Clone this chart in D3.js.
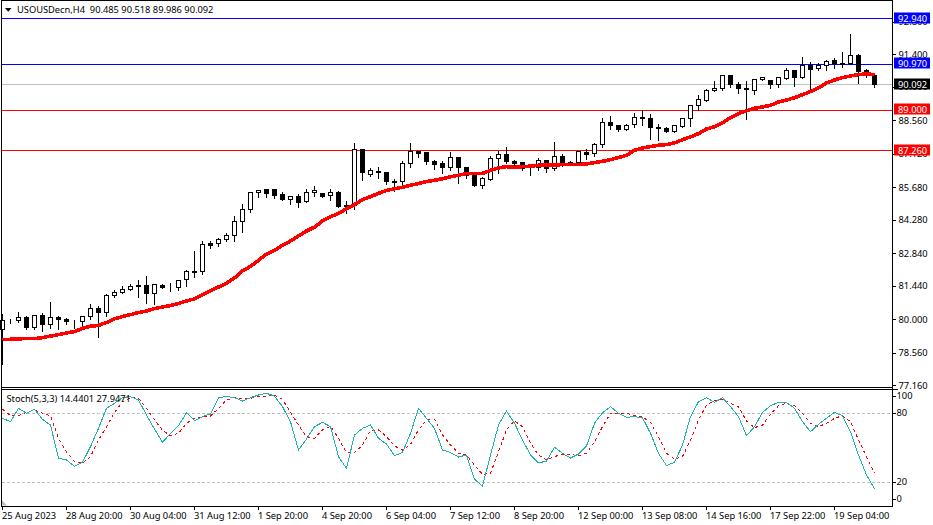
<!DOCTYPE html>
<html>
<head>
<meta charset="utf-8">
<script src="https://cdn.jsdelivr.net/npm/d3@7"></script>
<style>
  html, body { margin: 0; padding: 0; background: #fff; }
  svg { display: block; }
  text { font-family: "Noto Sans", sans-serif; font-size: 9.3px; fill: #000; }
</style>
</head>
<body>
<div id="chart"></div>
<script>
const opens = [79.53,79.93,79.93,80.07,79.64,80.16,79.76,80.07,79.99,79.92,79.89,80.10,80.46,80.27,81.01,81.15,81.28,81.45,81.45,81.11,81.46,81.38,81.41,81.67,82.05,82.05,83.27,83.26,83.42,83.60,84.20,84.72,85.42,85.59,85.59,85.38,85.19,85.29,85.06,
  85.42,85.42,85.35,85.45,84.89,84.89,87.30,86.26,86.36,86.31,85.93,85.91,86.70,87.22,87.17,86.80,86.70,86.51,86.96,86.53,86.18,85.74,86.04,86.90,87.09,86.79,86.74,86.51,86.51,86.83,86.47,87.00,86.74,86.74,87.17,87.12,87.52,88.46,88.34,
  88.18,88.36,88.68,88.64,88.25,88.20,88.06,88.32,88.64,89.18,89.42,89.83,89.91,90.49,90.10,89.93,89.83,90.31,90.27,90.08,90.36,90.70,90.39,90.93,90.77,90.92,91.13,90.99,90.99,91.36,90.69,90.485];
const highs = [80.22,80.03,80.30,80.13,80.16,80.25,80.73,80.16,80.04,79.99,80.16,80.68,80.59,81.11,81.28,81.42,81.54,81.68,81.85,81.49,81.54,81.58,81.67,82.14,82.93,83.39,83.36,83.49,83.73,84.43,84.95,85.47,85.55,85.59,85.60,85.47,85.32,85.38,85.61,
  85.72,85.42,85.60,85.50,85.08,87.59,87.35,86.51,86.56,86.36,86.05,86.80,87.59,87.23,87.22,86.87,86.80,87.19,86.97,86.54,86.27,86.13,87.02,87.26,87.40,86.84,86.74,86.60,86.92,86.83,87.62,87.13,86.83,87.23,87.32,87.60,88.68,88.74,88.34,
  88.42,88.89,88.99,88.85,88.39,88.28,88.35,88.68,89.20,89.67,89.90,90.24,90.50,90.53,90.23,90.27,90.36,90.40,90.29,90.43,90.83,90.72,91.28,91.06,91.05,91.15,91.23,91.52,92.26,91.40,90.77,90.518];
const lows = [78.09,79.84,79.87,79.59,79.60,79.50,79.61,79.59,79.79,79.61,79.64,80.02,79.24,80.16,80.96,81.13,81.25,80.96,80.70,80.68,81.34,81.22,81.25,81.42,81.82,81.97,83.06,83.16,83.37,83.37,83.76,84.63,85.27,85.27,85.24,85.12,84.95,84.83,85.04,
  85.29,85.27,85.12,84.84,84.58,84.74,85.98,86.16,86.07,85.84,85.50,85.72,86.56,86.97,86.70,86.46,86.30,86.44,85.87,86.07,85.72,85.67,85.98,86.30,86.73,86.64,86.44,86.21,86.43,86.34,86.43,86.60,86.63,86.64,86.89,87.02,87.42,88.19,88.09,
  88.16,88.28,88.35,87.75,87.70,88.05,88.05,88.28,88.32,88.99,89.40,89.83,89.88,89.98,89.75,88.62,89.70,90.31,89.96,90.00,90.36,90.04,90.39,89.86,90.74,90.72,90.83,90.86,90.99,90.17,90.43,89.986];
const closes = [79.93,79.94,80.07,79.63,80.16,79.76,80.07,79.99,79.89,79.93,80.10,80.46,80.27,81.02,81.15,81.28,81.41,81.39,81.09,81.49,81.39,81.39,81.67,82.05,82.07,83.21,83.21,83.43,83.60,84.20,84.72,85.45,85.54,85.42,85.37,85.16,85.29,85.04,85.45,
  85.54,85.29,85.47,84.84,84.84,87.30,86.30,86.41,86.31,85.91,85.94,86.70,87.22,87.12,86.76,86.69,86.51,86.96,86.51,86.18,85.74,86.05,86.92,87.09,86.76,86.69,86.47,86.49,86.83,86.47,87.00,86.69,86.69,87.22,87.09,87.52,88.46,88.32,88.18,
  88.36,88.68,88.64,88.23,88.20,88.06,88.33,88.65,89.20,89.45,89.86,89.93,90.49,90.08,89.91,89.88,90.31,90.39,90.08,90.40,90.70,90.39,90.92,90.77,90.92,91.09,90.99,91.02,91.35,90.69,90.47,90.092];
const maValues = [79.13,79.14,79.16,79.17,79.17,79.21,79.28,79.34,79.41,79.47,79.61,79.70,79.74,79.86,80.02,80.12,80.20,80.29,80.36,80.46,80.53,80.59,80.68,80.79,80.88,81.06,81.22,81.39,81.55,81.78,82.08,82.28,82.54,82.80,82.96,83.19,83.37,83.59,83.80,
  83.97,84.23,84.42,84.55,84.76,84.94,85.15,85.28,85.42,85.54,85.62,85.68,85.77,85.84,85.93,85.98,86.05,86.13,86.20,86.27,86.27,86.28,86.41,86.51,86.57,86.54,86.57,86.59,86.63,86.64,86.64,86.66,86.66,86.66,86.69,86.74,86.80,86.87,86.96,
  87.06,87.27,87.37,87.43,87.49,87.52,87.59,87.73,87.85,87.99,88.19,88.29,88.46,88.68,88.85,88.97,89.08,89.14,89.21,89.35,89.44,89.53,89.67,89.80,89.96,90.17,90.30,90.40,90.47,90.53,90.56,90.53];
const stochMain = [75.6,72.7,84.3,80,83.4,74.7,69.8,40.8,39.4,33.9,37.4,51,66.9,84.3,88.7,93.6,94.5,91.6,78.5,66.3,54.7,62.6,69.2,80.5,73.6,77.1,79.4,93.6,94.7,93.6,90.7,93.6,95.9,97.4,95,85.8,72.7,48.1,57.6,
  68.4,72.1,68.4,42.3,32.1,61.1,66.9,69.8,58.2,53.3,43.1,46,62.6,84.3,75.6,66.9,48.1,45.8,42,43.7,22.6,16.8,43.7,69.8,82,71.3,56.8,43.7,36.8,38.5,50.4,45.2,41.1,44.6,51.6,71.3,80.5,85.8,80,
  76.5,77.1,76.2,62.6,45.2,34.5,37.4,52.4,77.1,90.1,93.6,89.5,93.6,85.8,77.1,60.5,68.4,80.8,86.6,89.5,89.5,84.3,72.7,64,70.4,75.6,80.8,77.9,64,43.7,26.3,14.44];
const stochSignal = [83.7,77.9,77.9,80.8,82.9,80,77.9,58.2,46.6,37.9,36.8,42.3,56.8,68.4,80.8,90.1,93.6,93,84.3,74.2,65.5,60.3,62.6,71.3,75.6,77.1,77.6,84.3,91.6,93.6,92.4,93,94.5,95,95.9,92.1,80.8,69.8,59.7,
  58.2,65.5,68.7,58.2,45.8,45.8,52.4,64.9,65.5,59.7,51.6,48.1,53,65.5,74.2,74.7,61.1,52.4,45.2,43.7,35,26.9,27.8,46.6,65.5,73.6,68.4,53.9,43.7,39.4,42.3,44.6,44.3,43.1,45.2,55.3,68.4,80,80,
  80,77.9,76.8,72.1,59.7,45.2,40.3,42.3,56.8,74.2,87.2,91,92.4,88.7,85.8,73.3,67.5,69.8,79.1,86.6,88.7,86.6,80,71.3,68.4,71.3,75.6,77.9,72.7,56.8,42.3,27.9471];

const priceTicks = [92.8, 91.4, 90.0, 88.56, 87.12, 85.68, 84.28, 82.84, 81.44, 80.0, 78.56, 77.16];
const stochTicks = [100, 80, 20, 0];
const stochLevels = [80, 20];
const timeLabels = ['25 Aug 2023','28 Aug 20:00','30 Aug 04:00','31 Aug 12:00','1 Sep 20:00','4 Sep 20:00','6 Sep 04:00','7 Sep 12:00','8 Sep 20:00','12 Sep 00:00','13 Sep 08:00','14 Sep 16:00','17 Sep 22:00','19 Sep 04:00'];
const timeEvery = 8;

const blueLevels = [92.94, 90.97];
const redLevels = [89.0, 87.26];
const lastPrice = 90.092;

const titleText = 'USOUSDecn,H4  90.485 90.518 89.986 90.092';
const stochText = 'Stoch(5,3,3) 14.4401 27.9471';

const width = 933, height = 525;
const plotLeft = 1.5, plotRight = 892.5;
const fontSize = '9.3px';

const svg = d3.select('#chart').append('svg')
  .attr('width', width).attr('height', height)
  .attr('viewBox', `0 0 ${width} ${height}`);

const x = d3.scaleLinear().domain([0, opens.length - 1]).range([2.5, 874.5]);
const y = d3.scaleLinear().domain([92.94, 77.16]).range([18.6, 385.3]);
const yStoch = d3.scaleLinear().domain([100, 0]).range([390.3, 505.3]);

const snap = v => Math.round(v - 0.5) + 0.5;
const px = d => snap(x(d));

// Price panel levels sit behind the candles
const hLine = (g, v, scale, color) => g.append('line')
  .attr('x1', plotLeft).attr('x2', plotRight)
  .attr('y1', snap(scale(v))).attr('y2', snap(scale(v)))
  .attr('stroke', color).attr('shape-rendering', 'crispEdges');

const levels = svg.append('g');
hLine(levels, lastPrice, y, '#c0c0c0');
blueLevels.forEach(v => hLine(levels, v, y, '#0000ff'));
redLevels.forEach(v => hLine(levels, v, y, '#ff0000'));

// Candles
const candleLayer = svg.append('g').attr('shape-rendering', 'crispEdges');
const idx = d3.range(opens.length);

candleLayer.selectAll('line.wick').data(idx).join('line')
  .attr('class', 'wick')
  .attr('x1', px).attr('x2', px)
  .attr('y1', i => Math.round(y(highs[i])))
  .attr('y2', i => Math.round(y(lows[i])) + 1)
  .attr('stroke', '#000');

candleLayer.selectAll('rect').data(idx).join('rect')
  .attr('x', i => px(i) - 2)
  .attr('width', 4)
  .attr('y', i => snap(y(Math.max(opens[i], closes[i]))))
  .attr('height', i => Math.max(Math.round(y(Math.min(opens[i], closes[i]))) - Math.round(y(Math.max(opens[i], closes[i]))), 0))
  .attr('fill', i => closes[i] >= opens[i] ? '#fff' : '#000')
  .attr('stroke', '#000');

// Moving average
const maLine = d3.line().x((d, i) => x(i)).y(d => y(d));
svg.append('path').datum(maValues)
  .attr('d', maLine)
  .attr('fill', 'none').attr('stroke', '#ff0000').attr('stroke-width', 3.6)
  .attr('shape-rendering', 'crispEdges');

// Stochastic panel
const stochLayer = svg.append('g');
stochLevels.forEach(v => hLine(stochLayer, v, yStoch, '#c0c0c0').attr('stroke-dasharray', '3,2'));

const stochLine = d3.line().x((d, i) => x(i)).y(d => yStoch(d));
stochLayer.append('path').datum(stochSignal)
  .attr('d', stochLine)
  .attr('fill', 'none').attr('stroke', '#ff0000').attr('stroke-dasharray', '3,3')
  .attr('shape-rendering', 'crispEdges');
stochLayer.append('path').datum(stochMain)
  .attr('d', stochLine)
  .attr('fill', 'none').attr('stroke', '#20b2aa')
  .attr('shape-rendering', 'crispEdges');

// Frame
const frame = svg.append('g').attr('stroke', '#000').attr('shape-rendering', 'crispEdges');
frame.append('line').attr('x1', 1.5).attr('x2', 1.5).attr('y1', 0).attr('y2', 506);
frame.append('line').attr('x1', plotRight).attr('x2', plotRight).attr('y1', 0).attr('y2', 506);
frame.append('line').attr('x1', 1).attr('x2', plotRight).attr('y1', 0.5).attr('y2', 0.5);
frame.append('line').attr('x1', 1).attr('x2', plotRight).attr('y1', 387.5).attr('y2', 387.5);
frame.append('line').attr('x1', 1).attr('x2', 898).attr('y1', 389.5).attr('y2', 389.5);
frame.append('line').attr('x1', 1).attr('x2', plotRight).attr('y1', 506.5).attr('y2', 506.5);

// Axes
const styleAxis = g => {
  g.select('.domain').remove();
  g.selectAll('.tick line').attr('stroke', '#000').attr('shape-rendering', 'crispEdges');
  g.selectAll('.tick text').attr('fill', '#000').style('font-family', '"Noto Sans", sans-serif').style('font-size', fontSize);
};

svg.append('g')
  .attr('transform', `translate(${plotRight},0)`)
  .call(d3.axisRight(y).tickValues(priceTicks).tickSize(3).tickPadding(3).tickFormat(d3.format('.3f')))
  .call(styleAxis);

svg.append('g')
  .attr('transform', `translate(${plotRight},0)`)
  .call(d3.axisRight(yStoch).tickValues(stochTicks).tickSize(3).tickPadding(1))
  .call(styleAxis)
  .call(g => g.selectAll('.tick').attr('transform', d => `translate(0,${snap(Math.min(Math.max(yStoch(d), 396), 499))})`));

const timeTicks = timeLabels.map((_, i) => i * timeEvery);
svg.append('g')
  .attr('transform', 'translate(0,506.5)')
  .call(d3.axisBottom(x).tickValues(timeTicks).tickSize(3).tickFormat((d, i) => timeLabels[i]))
  .call(styleAxis)
  .call(g => g.selectAll('.tick').attr('transform', d => `translate(${px(d)},0)`))
  .call(g => g.selectAll('.tick text').attr('text-anchor', 'start').attr('x', -0.5).attr('y', 5.5));

// Price tags on the right axis
const tags = [
  ...blueLevels.map(v => ({ v, color: '#0000ff' })),
  ...redLevels.map(v => ({ v, color: '#ff0000' })),
  { v: lastPrice, color: '#000' }
];
const tag = svg.selectAll('g.tag').data(tags).join('g')
  .attr('class', 'tag')
  .attr('transform', d => `translate(894,${Math.round(y(d.v))})`);
tag.append('rect')
  .attr('x', 0).attr('y', -6.5).attr('width', 36).attr('height', 11)
  .attr('fill', d => d.color);
tag.append('text')
  .attr('x', 4).attr('y', 2.5)
  .style('fill', '#fff')
  .text(d => d3.format('.3f')(d.v));

// Titles
svg.append('path')
  .attr('d', d3.line()([[5, 8], [11.5, 8], [8.2, 11.7]]) + 'Z')
  .attr('fill', '#000');
svg.append('text').attr('x', 17).attr('y', 13).attr('xml:space', 'preserve').text(titleText);
svg.append('text').attr('x', 6.5).attr('y', 402).text(stochText);

// Grey marker in the corner of the lower panel
svg.append('path')
  .attr('d', d3.line()([[2, 500.5], [7, 505.5], [2, 505.5]]) + 'Z')
  .attr('fill', '#c0c0c0');
</script>
</body>
</html>
